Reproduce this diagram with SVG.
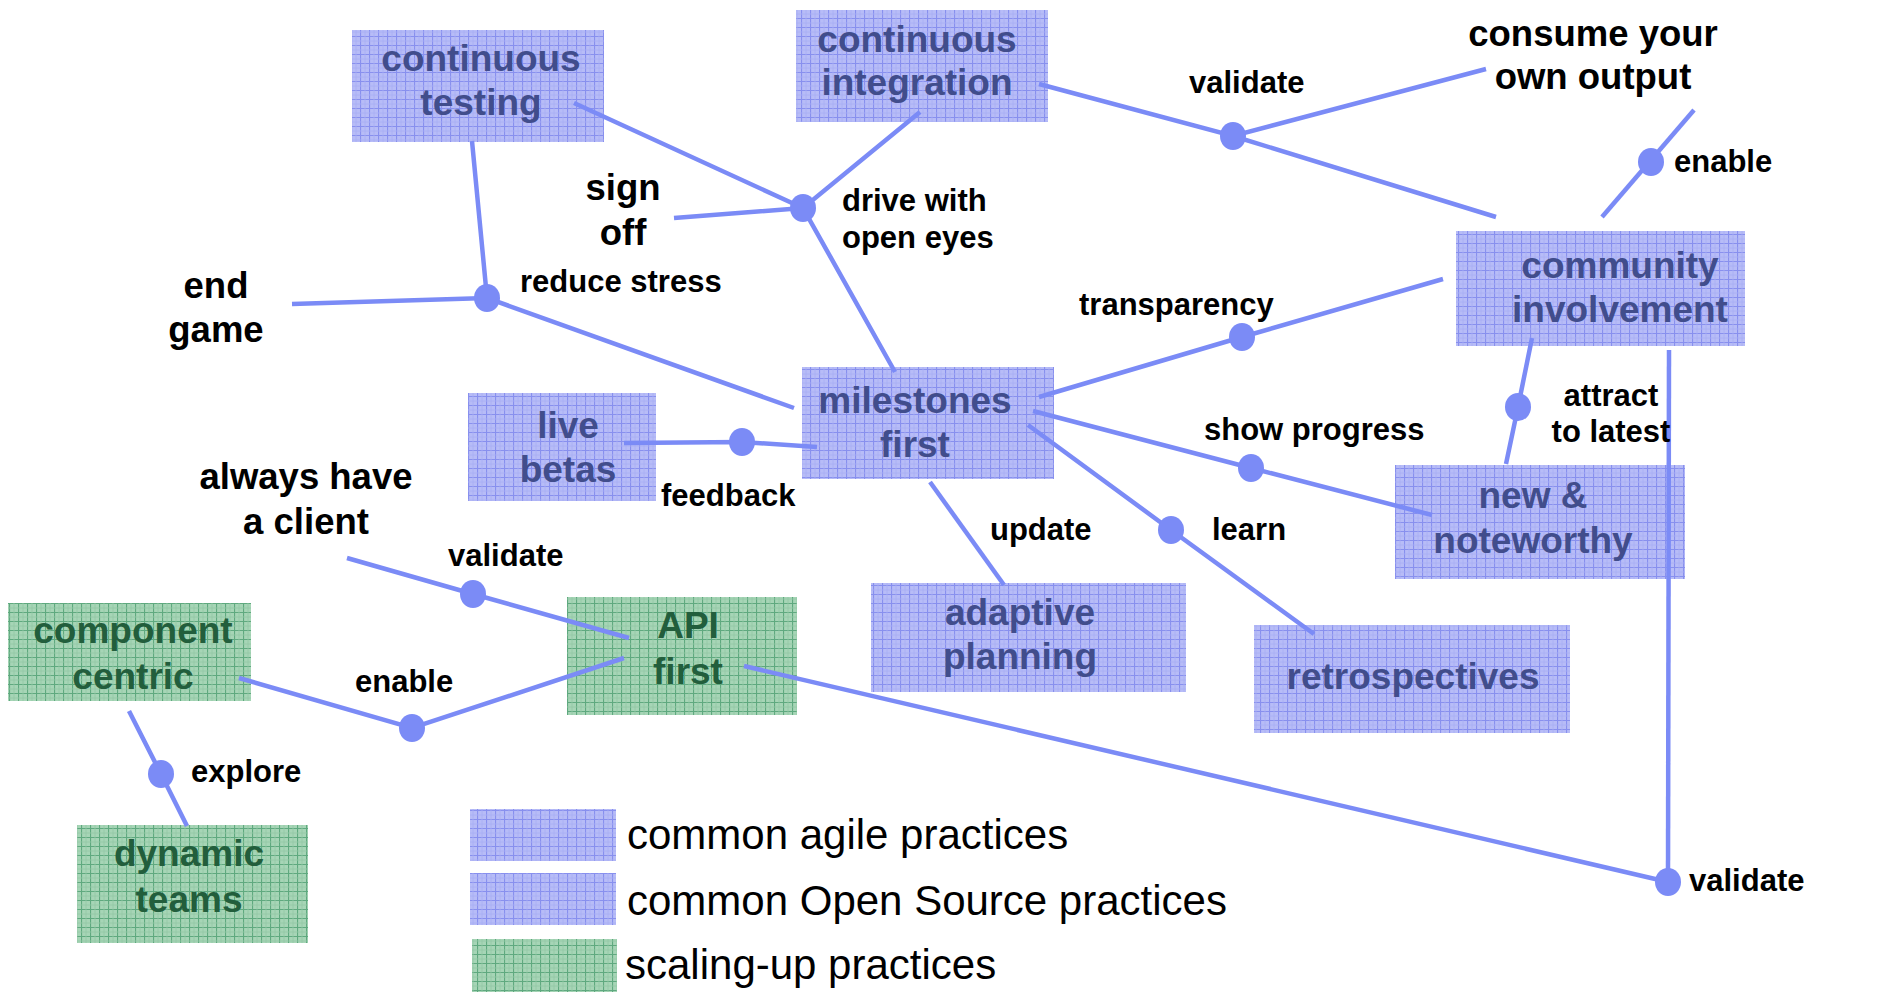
<svg xmlns="http://www.w3.org/2000/svg" width="1883" height="992" viewBox="0 0 1883 992">
<defs>
<pattern id="gridBlue" width="9" height="9" patternUnits="userSpaceOnUse">
<rect width="9" height="9" fill="#b7bcf7"/>
<path d="M0 0.5H9M0.5 0V9" stroke="#8890ee" stroke-width="1.2"/>
<path d="M0 5H9M5 0V9" stroke="#a7adf4" stroke-width="0.8"/>
</pattern>
<pattern id="gridGreen" width="9" height="9" patternUnits="userSpaceOnUse">
<rect width="9" height="9" fill="#a6d5b6"/>
<path d="M0 0.5H9M0.5 0V9" stroke="#5fa97f" stroke-width="1.2"/>
<path d="M0 5H9M5 0V9" stroke="#90c7a4" stroke-width="0.8"/>
</pattern>
</defs>
<style>
.blue{fill:url(#gridBlue)}
.green{fill:url(#gridGreen)}
.bt{font-family:"Liberation Sans",Arial,sans-serif;font-weight:bold;font-size:37px;fill:#414d8c;text-anchor:middle}
.gt{font-family:"Liberation Sans",Arial,sans-serif;font-weight:bold;font-size:37px;fill:#225e3c;text-anchor:middle}
.lbl{font-family:"Liberation Sans",Arial,sans-serif;font-weight:bold;font-size:31px;fill:#000}
.big{font-family:"Liberation Sans",Arial,sans-serif;font-weight:bold;font-size:36.5px;fill:#000;text-anchor:middle}
.leg{font-family:"Liberation Sans",Arial,sans-serif;font-size:42px;fill:#000}
.c{stroke:#7b8bf6;stroke-width:4.5;fill:none;stroke-linecap:butt}
.d{fill:#7b8bf6}
</style>
<rect width="1883" height="992" fill="#fff"/>

<g id="node-continuous-testing"><rect class="blue" x="352" y="30" width="252" height="112"/><text class="bt" x="481" y="71">continuous</text><text class="bt" x="481" y="115">testing</text></g>
<g id="node-continuous-integration"><rect class="blue" x="796" y="10" width="252" height="112"/><text class="bt" x="917" y="52">continuous</text><text class="bt" x="917" y="95">integration</text></g>
<g id="node-community-involvement"><rect class="blue" x="1456" y="231" width="289" height="115"/><text class="bt" x="1620" y="278">community</text><text class="bt" x="1620" y="322">involvement</text></g>
<g id="node-milestones-first"><rect class="blue" x="802" y="367" width="252" height="112"/><text class="bt" x="915" y="413">milestones</text><text class="bt" x="915" y="457">first</text></g>
<g id="node-live-betas"><rect class="blue" x="468" y="393" width="188" height="108"/><text class="bt" x="568" y="438">live</text><text class="bt" x="568" y="482">betas</text></g>
<g id="node-new-noteworthy"><rect class="blue" x="1395" y="465" width="290" height="114"/><text class="bt" x="1533" y="508">new &amp;</text><text class="bt" x="1533" y="553">noteworthy</text></g>
<g id="node-adaptive-planning"><rect class="blue" x="871" y="583" width="315" height="109"/><text class="bt" x="1020" y="625">adaptive</text><text class="bt" x="1020" y="669">planning</text></g>
<g id="node-retrospectives"><rect class="blue" x="1254" y="625" width="316" height="108"/><text class="bt" x="1413" y="689">retrospectives</text></g>
<g id="node-api-first"><rect class="green" x="567" y="597" width="230" height="118"/><text class="gt" x="688" y="638">API</text><text class="gt" x="688" y="684">first</text></g>
<g id="node-component-centric"><rect class="green" x="8" y="603" width="243" height="98"/><text class="gt" x="133" y="643">component</text><text class="gt" x="133" y="689">centric</text></g>
<g id="node-dynamic-teams"><rect class="green" x="77" y="825" width="231" height="118"/><text class="gt" x="189" y="866">dynamic</text><text class="gt" x="189" y="912">teams</text></g>

<g id="connectors">
<path class="c" d="M472 141L487 298M292 304L487 298L794 408"/>
<path class="c" d="M574 103L803 208M674 218L803 208M920 112L803 208L895 372"/>
<path class="c" d="M1039 84L1233 136L1486 69M1233 136L1496 217"/>
<path class="c" d="M1694 110L1602 217"/>
<path class="c" d="M1039 397L1242 337L1443 279"/>
<path class="c" d="M1532 338L1518 407L1506 464"/>
<path class="c" d="M1669 350L1668 882"/>
<path class="c" d="M624 443L742 442L817 447"/>
<path class="c" d="M1033 411L1251 468L1432 515"/>
<path class="c" d="M1028 425L1171 530L1314 634"/>
<path class="c" d="M930 482L1004 585"/>
<path class="c" d="M347 558L473 594L629 638"/>
<path class="c" d="M239 678L412 728L624 658"/>
<path class="c" d="M129 711L161 774L187 826"/>
<path class="c" d="M744 666L1668 882"/>
<ellipse class="d" cx="487" cy="298" rx="13" ry="14"/>
<ellipse class="d" cx="803" cy="208" rx="13" ry="14"/>
<ellipse class="d" cx="1233" cy="136" rx="13" ry="14"/>
<ellipse class="d" cx="1651" cy="162" rx="13" ry="14"/>
<ellipse class="d" cx="1242" cy="337" rx="13" ry="14"/>
<ellipse class="d" cx="1518" cy="407" rx="13" ry="14"/>
<ellipse class="d" cx="742" cy="442" rx="13" ry="14"/>
<ellipse class="d" cx="1251" cy="468" rx="13" ry="14"/>
<ellipse class="d" cx="1171" cy="530" rx="13" ry="14"/>
<ellipse class="d" cx="473" cy="594" rx="13" ry="14"/>
<ellipse class="d" cx="412" cy="728" rx="13" ry="14"/>
<ellipse class="d" cx="161" cy="774" rx="13" ry="14"/>
<ellipse class="d" cx="1668" cy="882" rx="13" ry="14"/>
</g>

<g id="labels">
<text class="lbl" x="1189" y="93">validate</text>
<text class="lbl" x="1674" y="172">enable</text>
<text class="lbl" x="842" y="211">drive with</text>
<text class="lbl" x="842" y="248">open eyes</text>
<text class="lbl" x="520" y="292">reduce stress</text>
<text class="lbl" x="1079" y="315">transparency</text>
<text class="lbl" x="1611" y="406" text-anchor="middle">attract</text>
<text class="lbl" x="1611" y="442" text-anchor="middle">to latest</text>
<text class="lbl" x="1204" y="440">show progress</text>
<text class="lbl" x="661" y="506">feedback</text>
<text class="lbl" x="990" y="540">update</text>
<text class="lbl" x="1212" y="540">learn</text>
<text class="lbl" x="448" y="566">validate</text>
<text class="lbl" x="355" y="692">enable</text>
<text class="lbl" x="191" y="782">explore</text>
<text class="lbl" x="1689" y="891">validate</text>
<text class="big" x="1593" y="46">consume your</text>
<text class="big" x="1593" y="89">own output</text>
<text class="big" x="623" y="200">sign</text>
<text class="big" x="623" y="245">off</text>
<text class="big" x="216" y="298">end</text>
<text class="big" x="216" y="342">game</text>
<text class="big" x="306" y="489">always have</text>
<text class="big" x="306" y="534">a client</text>
</g>

<g id="legend">
<rect class="blue" x="470" y="809" width="146" height="52"/>
<rect class="blue" x="470" y="873" width="146" height="52"/>
<rect class="green" x="472" y="939" width="145" height="53"/>
<text class="leg" x="627" y="849">common agile practices</text>
<text class="leg" x="627" y="915">common Open Source practices</text>
<text class="leg" x="625" y="979">scaling-up practices</text>
</g>
</svg>
